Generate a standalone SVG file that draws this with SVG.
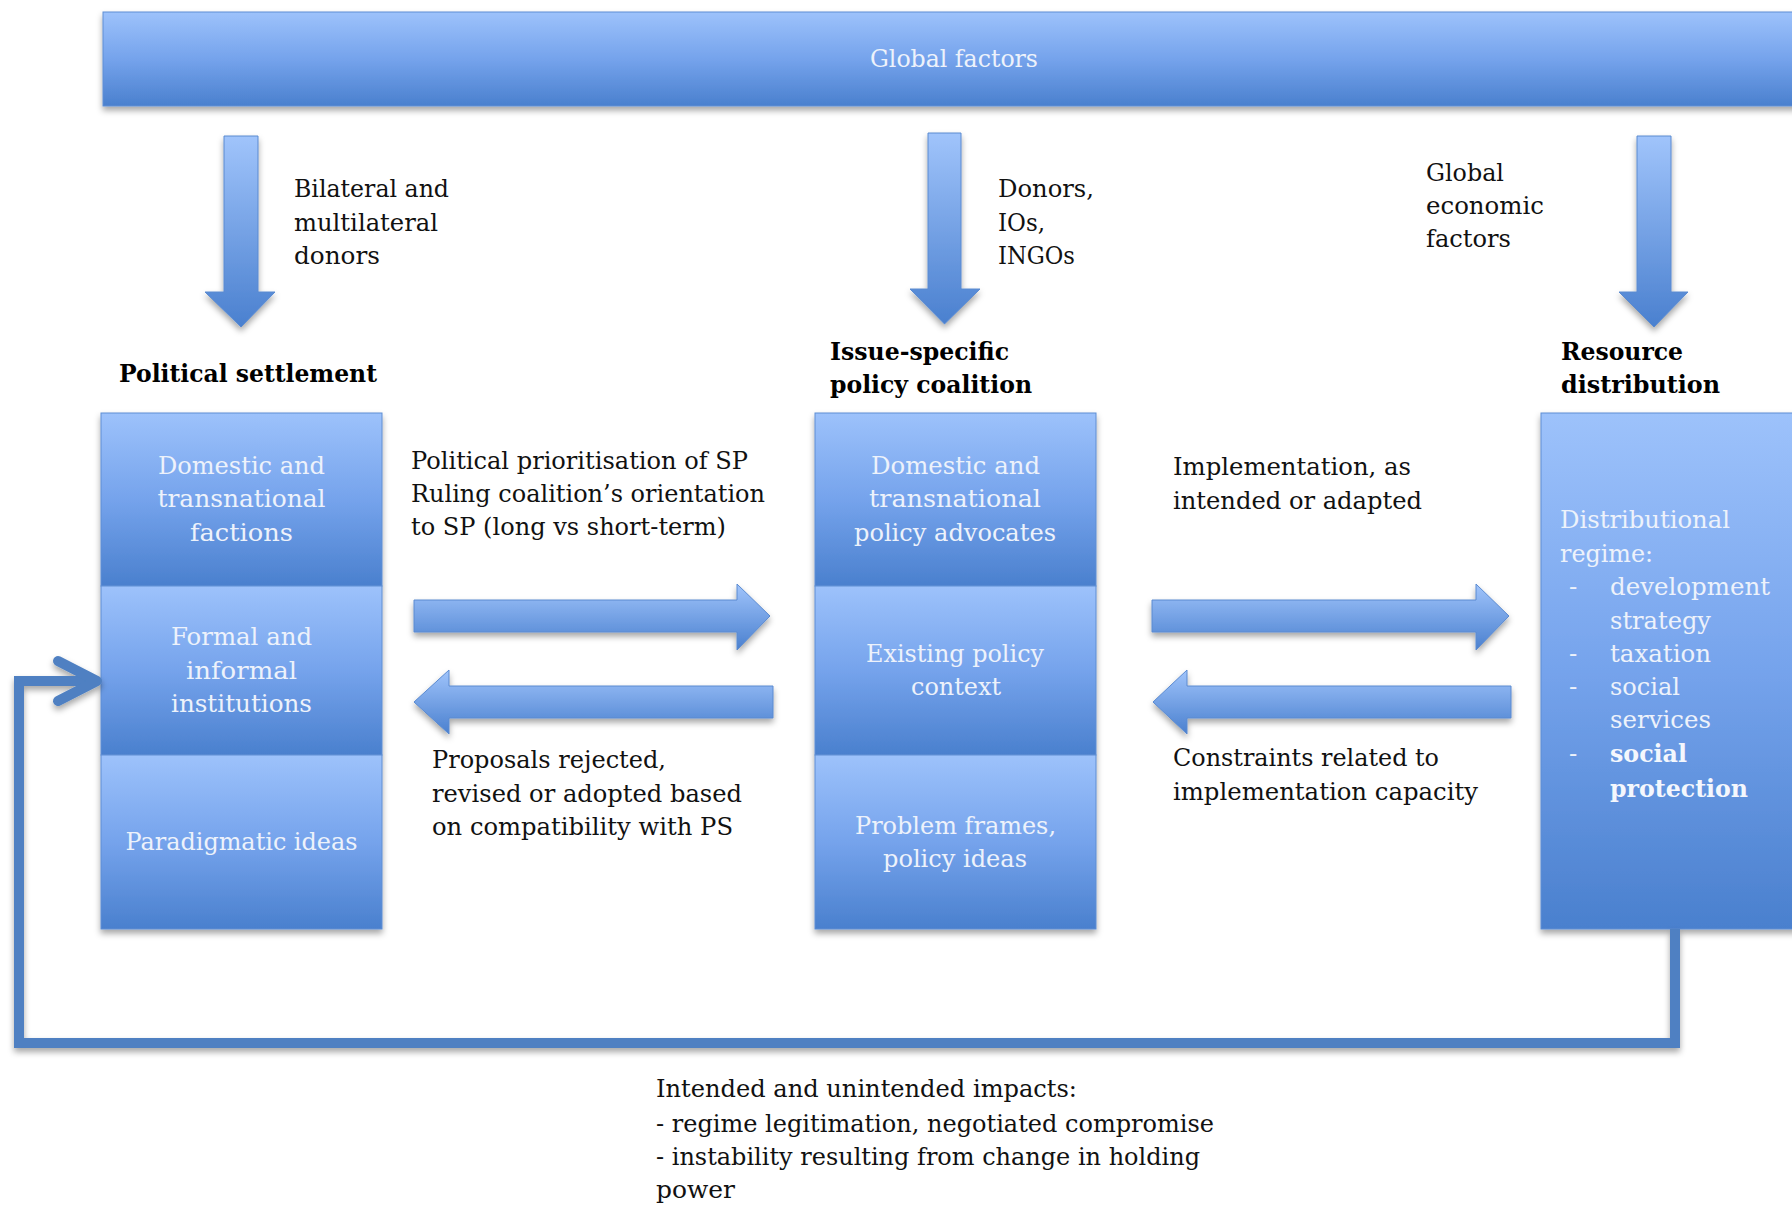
<svg xmlns="http://www.w3.org/2000/svg" width="1792" height="1205" viewBox="0 0 1792 1205">
<defs>
<linearGradient id="gBox" x1="0" y1="0" x2="0" y2="1">
<stop offset="0" stop-color="#9dc2fb"/>
<stop offset="0.5" stop-color="#75a3ec"/>
<stop offset="1" stop-color="#4a80ce"/>
</linearGradient>
<linearGradient id="gArr" x1="0" y1="0" x2="0" y2="1">
<stop offset="0" stop-color="#a0c4fb"/>
<stop offset="1" stop-color="#4a80cf"/>
</linearGradient>
<filter id="sh" x="-10%" y="-10%" width="120%" height="130%">
<feDropShadow dx="0" dy="4" stdDeviation="3" flood-color="#000" flood-opacity="0.35"/>
</filter>
</defs>
<style>
.lbl{font-family:"DejaVu Serif","Liberation Serif",serif;font-size:24.5px;fill:#111}
.hdr{font-family:"DejaVu Serif","Liberation Serif",serif;font-size:24px;font-weight:bold;fill:#000}
.box{font-family:"DejaVu Serif","Liberation Serif",serif;font-size:24.5px;fill:#edf2fb}
.boxb{font-family:"DejaVu Serif","Liberation Serif",serif;font-size:24.5px;font-weight:bold;fill:#f4f7fd}
.sect{fill:url(#gBox);stroke:#5e8ed3;stroke-width:1}
.arr{fill:url(#gArr);stroke:#5a8ad0;stroke-width:1}
.fb{fill:none;stroke:#4f80c2;stroke-width:10}
</style>

<g id="global-factors">
<rect class="sect" x="103" y="12" width="1700" height="94" filter="url(#sh)"/>
<text class="box" x="870" y="67" textLength="168" lengthAdjust="spacingAndGlyphs">Global factors</text>
</g>

<g id="political-settlement">
<text class="hdr" x="119" y="382" textLength="258" lengthAdjust="spacingAndGlyphs">Political settlement</text>
<g filter="url(#sh)">
<rect class="sect" x="101" y="413" width="281" height="173"/>
<rect class="sect" x="101" y="586" width="281" height="169"/>
<rect class="sect" x="101" y="755" width="281" height="174"/>
</g>
<text class="box" x="158" y="474" textLength="167" lengthAdjust="spacingAndGlyphs">Domestic and</text>
<text class="box" x="157.5" y="507" textLength="168" lengthAdjust="spacingAndGlyphs">transnational</text>
<text class="box" x="190" y="541" textLength="103" lengthAdjust="spacingAndGlyphs">factions</text>
<text class="box" x="171" y="645" textLength="141" lengthAdjust="spacingAndGlyphs">Formal and</text>
<text class="box" x="186" y="679" textLength="111" lengthAdjust="spacingAndGlyphs">informal</text>
<text class="box" x="171" y="712" textLength="141" lengthAdjust="spacingAndGlyphs">institutions</text>
<text class="box" x="125.5" y="850" textLength="232" lengthAdjust="spacingAndGlyphs">Paradigmatic ideas</text>
</g>

<g id="policy-coalition">
<text class="hdr" x="830" y="360" textLength="179" lengthAdjust="spacingAndGlyphs">Issue-specific</text>
<text class="hdr" x="830" y="393" textLength="202" lengthAdjust="spacingAndGlyphs">policy coalition</text>
<g filter="url(#sh)">
<rect class="sect" x="815" y="413" width="281" height="173"/>
<rect class="sect" x="815" y="586" width="281" height="169"/>
<rect class="sect" x="815" y="755" width="281" height="174"/>
</g>
<text class="box" x="871" y="474" textLength="169" lengthAdjust="spacingAndGlyphs">Domestic and</text>
<text class="box" x="869" y="507" textLength="172" lengthAdjust="spacingAndGlyphs">transnational</text>
<text class="box" x="854" y="541" textLength="202" lengthAdjust="spacingAndGlyphs">policy advocates</text>
<text class="box" x="866" y="662" textLength="178" lengthAdjust="spacingAndGlyphs">Existing policy</text>
<text class="box" x="911" y="695" textLength="90" lengthAdjust="spacingAndGlyphs">context</text>
<text class="box" x="855" y="834" textLength="201" lengthAdjust="spacingAndGlyphs">Problem frames,</text>
<text class="box" x="883" y="867" textLength="144" lengthAdjust="spacingAndGlyphs">policy ideas</text>
</g>

<g id="resource-distribution">
<text class="hdr" x="1561" y="360" textLength="122" lengthAdjust="spacingAndGlyphs">Resource</text>
<text class="hdr" x="1561" y="393" textLength="159" lengthAdjust="spacingAndGlyphs">distribution</text>
<rect class="sect" x="1541" y="413" width="270" height="516" filter="url(#sh)"/>
<text class="box" x="1560" y="528" textLength="170" lengthAdjust="spacingAndGlyphs">Distributional</text>
<text class="box" x="1560" y="562" textLength="93" lengthAdjust="spacingAndGlyphs">regime:</text>
<text class="box" x="1569" y="595">-</text>
<text class="box" x="1610" y="595" textLength="160" lengthAdjust="spacingAndGlyphs">development</text>
<text class="box" x="1610" y="629" textLength="101" lengthAdjust="spacingAndGlyphs">strategy</text>
<text class="box" x="1569" y="662">-</text>
<text class="box" x="1610" y="662" textLength="101" lengthAdjust="spacingAndGlyphs">taxation</text>
<text class="box" x="1569" y="695">-</text>
<text class="box" x="1610" y="695" textLength="70" lengthAdjust="spacingAndGlyphs">social</text>
<text class="box" x="1610" y="728" textLength="101" lengthAdjust="spacingAndGlyphs">services</text>
<text class="box" x="1569" y="762">-</text>
<text class="boxb" x="1610" y="762" textLength="77" lengthAdjust="spacingAndGlyphs">social</text>
<text class="boxb" x="1610" y="797" textLength="138" lengthAdjust="spacingAndGlyphs">protection</text>
</g>

<g id="connectors">
<g filter="url(#sh)">
<path class="arr" d="M224,136 H258 V292 H275 L241,327 L205,292 H224 Z"/>
<path class="arr" d="M928,133 H961 V289 H980 L944.5,324 L910,289 H928 Z"/>
<path class="arr" d="M1637,136 H1671 V292 H1688 L1654,327 L1619,292 H1637 Z"/>
<path class="arr" d="M414,600 H737 V584 L770,616 L737,650 V632 H414 Z"/>
<path class="arr" d="M773,686 V718 H449 V734 L414,702 L449,670 V686 Z"/>
<path class="arr" d="M1152,600 H1476 V584 L1509,616 L1476,650 V632 H1152 Z"/>
<path class="arr" d="M1511,686 V718 H1187 V734 L1153,702 L1187,670 V686 Z"/>
</g>
<g filter="url(#sh)">
<path class="fb" d="M1675,929 V1043 H19 V681 H94"/>
<polyline class="fb" points="58,661 97,681 58,701" stroke-linecap="round" stroke-linejoin="round" stroke-width="11"/>
</g>
</g>

<g id="labels">
<text class="lbl" x="294" y="197" textLength="155" lengthAdjust="spacingAndGlyphs">Bilateral and</text>
<text class="lbl" x="294" y="231" textLength="144" lengthAdjust="spacingAndGlyphs">multilateral</text>
<text class="lbl" x="294" y="264" textLength="86" lengthAdjust="spacingAndGlyphs">donors</text>
<text class="lbl" x="998" y="197" textLength="96" lengthAdjust="spacingAndGlyphs">Donors,</text>
<text class="lbl" x="998" y="231" textLength="47" lengthAdjust="spacingAndGlyphs">IOs,</text>
<text class="lbl" x="998" y="264" textLength="77" lengthAdjust="spacingAndGlyphs">INGOs</text>
<text class="lbl" x="1426" y="181" textLength="78" lengthAdjust="spacingAndGlyphs">Global</text>
<text class="lbl" x="1426" y="214" textLength="118" lengthAdjust="spacingAndGlyphs">economic</text>
<text class="lbl" x="1426" y="247" textLength="85" lengthAdjust="spacingAndGlyphs">factors</text>
<text class="lbl" x="411" y="469" textLength="337" lengthAdjust="spacingAndGlyphs">Political prioritisation of SP</text>
<text class="lbl" x="411" y="502" textLength="354" lengthAdjust="spacingAndGlyphs">Ruling coalition’s orientation</text>
<text class="lbl" x="411" y="535" textLength="315" lengthAdjust="spacingAndGlyphs">to SP (long vs short-term)</text>
<text class="lbl" x="432" y="768" textLength="234" lengthAdjust="spacingAndGlyphs">Proposals rejected,</text>
<text class="lbl" x="432" y="802" textLength="310" lengthAdjust="spacingAndGlyphs">revised or adopted based</text>
<text class="lbl" x="432" y="835" textLength="301" lengthAdjust="spacingAndGlyphs">on compatibility with PS</text>
<text class="lbl" x="1173" y="475" textLength="238" lengthAdjust="spacingAndGlyphs">Implementation, as</text>
<text class="lbl" x="1173" y="509" textLength="249" lengthAdjust="spacingAndGlyphs">intended or adapted</text>
<text class="lbl" x="1173" y="766" textLength="266" lengthAdjust="spacingAndGlyphs">Constraints related to</text>
<text class="lbl" x="1173" y="800" textLength="305" lengthAdjust="spacingAndGlyphs">implementation capacity</text>
<text class="lbl" x="656" y="1097" textLength="421" lengthAdjust="spacingAndGlyphs">Intended and unintended impacts:</text>
<text class="lbl" x="656" y="1132" textLength="558" lengthAdjust="spacingAndGlyphs">- regime legitimation, negotiated compromise</text>
<text class="lbl" x="656" y="1165" textLength="544" lengthAdjust="spacingAndGlyphs">- instability resulting from change in holding</text>
<text class="lbl" x="656" y="1198" textLength="79" lengthAdjust="spacingAndGlyphs">power</text>
</g>
</svg>
